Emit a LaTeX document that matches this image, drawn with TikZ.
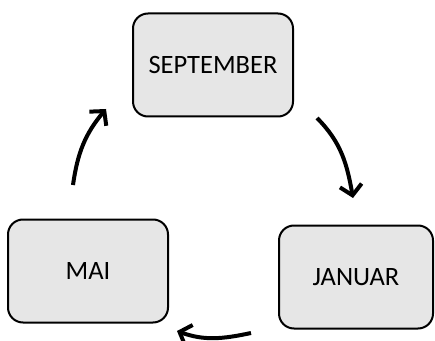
\documentclass[tikz,border=0pt]{standalone}
\usepackage{fontspec}
\setmainfont{Carlito}
\usetikzlibrary{arrows.meta}

\tikzset{
  monthbox/.style={draw=black, line width=2pt, rounded corners=15pt, fill=boxgray,
    minimum width=#1, minimum height=103pt, inner sep=0pt, font=\fontsize{26.5}{30}\selectfont},
  cyclearrow/.style={line width=4pt, -{Straight Barb[length=10pt,width=22pt]}}
}
\definecolor{boxgray}{HTML}{E6E6E6}

\begin{document}
\begin{tikzpicture}[x=1pt, y=1pt]
        \useasboundingbox (0,0) rectangle (435,340);

        % boxes
        \node[monthbox=160pt] (september) at (213,275) {SEPTEMBER};
        \node[monthbox=160pt] (mai) at (88,69) {MAI};
        \node[monthbox=154pt] (januar) at (356,63) {JANUAR};

        % arrow ends
        \coordinate (sepStart) at (317,222);
        \coordinate (janEnd) at (353,142);
        \coordinate (janStart) at (251,7);
        \coordinate (maiEnd) at (177,9);
        \coordinate (maiStart) at (73,155);
        \coordinate (sepEnd) at (106,231);

        \draw[cyclearrow] (sepStart) to[out=-45, in=100] (janEnd);
        \draw[cyclearrow] (janStart) to[out=192, in=-20] (maiEnd);
        \draw[cyclearrow] (maiStart) to[out=82, in=230] (sepEnd);
    \end{tikzpicture}
\end{document}
